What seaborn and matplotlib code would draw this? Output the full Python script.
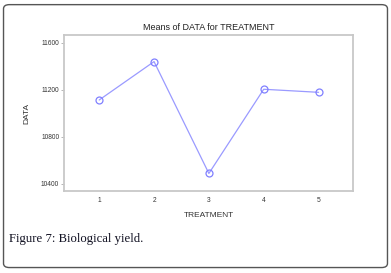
import pandas as pd
import seaborn as sns
import matplotlib.pyplot as plt
from matplotlib.patches import FancyBboxPatch

treatment = [1, 2, 3, 4, 5]
means = [11112, 11438, 10488, 11203, 11177]
yticks = [10400, 10800, 11200, 11600]

df = pd.DataFrame({"TREATMENT": treatment, "DATA": means})

sns.set_style("white")
plt.rcParams["font.family"] = ["Liberation Sans", "DejaVu Sans"]

fig = plt.figure(figsize=(3.91, 2.73), dpi=100)
ax = fig.add_axes([0.164, 0.300, 0.739, 0.571])

sns.lineplot(data=df, x="TREATMENT", y="DATA", ax=ax, color="#9a9aff", lw=0.9,
             marker="o", markersize=5, markerfacecolor="none",
             markeredgecolor="#8080ff", markeredgewidth=0.9)

ax.set_xlim(0.36, 5.63)
ax.set_ylim(10338, 11662)
ax.set_xticks(treatment)
ax.set_yticks(yticks)
ax.tick_params(axis="both", labelsize=4.8, colors="#333333")
ax.tick_params(axis="y", length=2, width=0.5, left=True, color="#999999", pad=1.5)
ax.tick_params(axis="x", length=0, pad=4)
for s in ax.spines.values():
    s.set_color("#c8c8c8")
    s.set_linewidth(1.3)

ax.set_title("Means of DATA for TREATMENT", fontsize=6.5, color="#222222", pad=4)
ax.set_xlabel("TREATMENT", fontsize=6, color="#333333", labelpad=6)
ax.set_ylabel("DATA", fontsize=6, color="#333333", labelpad=8)

fig.text(0.023, 0.112, "Figure 7: Biological yield.", fontsize=9.2,
         family="Liberation Serif", color="#111122")

box = FancyBboxPatch((0.009, 0.02), 0.982, 0.963, boxstyle="round,pad=0,rounding_size=0.015",
                     transform=fig.transFigure, fill=False, edgecolor="#555555", lw=1.0)
fig.patches.append(box)

fig.savefig("out.png", dpi=100)
